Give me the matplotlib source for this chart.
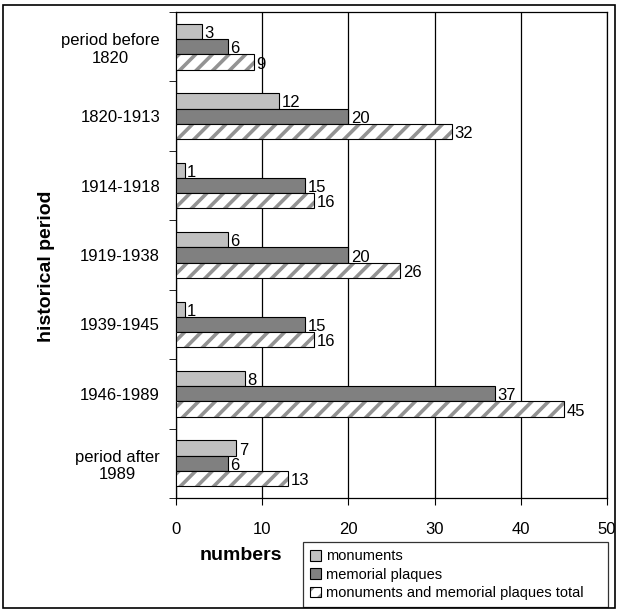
import numpy as np
import matplotlib
matplotlib.use('Agg')
import matplotlib.pyplot as plt
from matplotlib.patches import Rectangle

# --- Data ---
periods   = ['period before\n1820', '1820-1913', '1914-1918', '1919-1938',
             '1939-1945', '1946-1989', 'period after\n1989']
monuments = [3, 12, 1, 6, 1, 8, 7]
plaques   = [6, 20, 15, 20, 15, 37, 6]
total     = [9, 32, 16, 26, 16, 45, 13]

plt.rcParams['font.family'] = 'Liberation Sans'
plt.rcParams['hatch.linewidth'] = 2.6

fig = plt.figure(figsize=(6.19, 6.12), dpi=100)
ax = fig.add_axes([176 / 619, 1 - 498 / 612, 431 / 619, 486 / 612])

n = len(periods)
y = np.arange(n)
h = 0.22
b1 = ax.barh(y - h, monuments, height=h, color='#c0c0c0', edgecolor='black', linewidth=0.8,
             zorder=3)
b2 = ax.barh(y, plaques, height=h, color='#808080', edgecolor='black', linewidth=0.8,
             zorder=3)
# hatched fill (grey stripes) + black outline on top
b3h = ax.barh(y + h, total, height=h, color='white', edgecolor='#939393', linewidth=0,
              hatch='//', zorder=3)
b3 = ax.barh(y + h, total, height=h, fill=False, edgecolor='black', linewidth=0.8, zorder=3.5)

for bars, vals in [(b1, monuments), (b2, plaques), (b3, total)]:
    for bar, v in zip(bars, vals):
        ax.text(v + 0.3, bar.get_y() + bar.get_height() / 2 + 0.03, str(v),
                va='center', ha='left', fontsize=12, zorder=4)

ax.set_xlim(0, 50)
ax.set_ylim(n - 0.5, -0.5)
ax.set_xticks([0, 10, 20, 30, 40, 50])
ax.tick_params(axis='x', labelsize=12, length=5, direction='out', pad=12)
ax.set_yticks(y)
ax.set_yticklabels(periods, fontsize=12, ha='right', multialignment='center')
ax.tick_params(axis='y', length=0, pad=11.5)
ax.set_yticks(np.arange(n + 1) - 0.5, minor=True)
ax.tick_params(axis='y', which='minor', length=5, direction='out')
ax.xaxis.grid(True, color='black', linewidth=0.9, zorder=0)
for s in ax.spines.values():
    s.set_linewidth(0.9)

fig.text(47 / 619, 1 - 266 / 612, 'historical period', fontsize=14, fontweight='bold',
         rotation=90, ha='center', va='center')
fig.text(241 / 619, 1 - 556 / 612, 'numbers', fontsize=14, fontweight='bold',
         ha='center', va='center')

pm = Rectangle((0, 0), 1, 1, facecolor='#c0c0c0', edgecolor='black', linewidth=0.8)
pp = Rectangle((0, 0), 1, 1, facecolor='#808080', edgecolor='black', linewidth=0.8)
pth = Rectangle((0, 0), 1, 1, facecolor='white', edgecolor='#939393', linewidth=0, hatch='//')
pto = Rectangle((0, 0), 1, 1, fill=False, edgecolor='black', linewidth=0.8)
leg = ax.legend([pm, pp, (pth, pto)],
                ['monuments', 'memorial plaques', 'monuments and memorial plaques total'],
                loc='upper left',
                bbox_to_anchor=(303 / 619, 1 - 607 / 612, 305 / 619, 65 / 612),
                bbox_transform=fig.transFigure, mode='expand', fontsize=10.5, frameon=True,
                fancybox=False, handlelength=0.75, handleheight=0.75, handletextpad=0.3,
                borderpad=0.5, labelspacing=0.3, borderaxespad=0)
leg.get_frame().set_edgecolor('black')
leg.get_frame().set_linewidth(0.9)

fig.patches.append(Rectangle((3 / 619, 4 / 612), 612 / 619, 603 / 612, transform=fig.transFigure,
                             fill=False, edgecolor='black', linewidth=1.2))

fig.savefig('out.png', dpi=100)
